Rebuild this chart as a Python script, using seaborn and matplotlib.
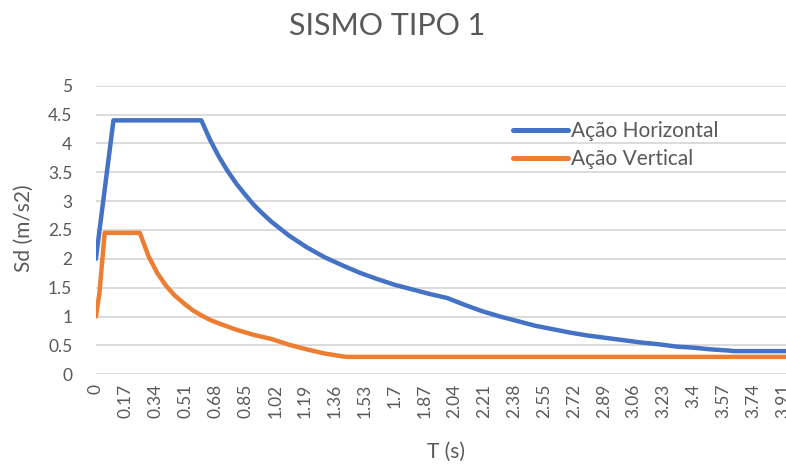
import matplotlib
matplotlib.use("Agg")
import matplotlib.pyplot as plt
import seaborn as sns
import pandas as pd

# Design spectra, EC8 seismic action type 1
t_horizontal = [0.0, 0.1, 0.6, 0.65, 0.7, 0.75, 0.8, 0.85, 0.9, 0.95, 1.0,
                1.1, 1.2, 1.3, 1.4, 1.5, 1.6, 1.7, 1.8, 1.9, 2.0,
                2.1, 2.2, 2.3, 2.4, 2.5, 2.6, 2.7, 2.8, 2.9, 3.0,
                3.1, 3.2, 3.3, 3.4, 3.5, 3.6, 3.63, 3.93]
sd_horizontal = [2.0, 4.4, 4.4, 4.06, 3.77, 3.52, 3.30, 3.11, 2.93, 2.78, 2.64,
                 2.40, 2.20, 2.03, 1.89, 1.76, 1.65, 1.55, 1.47, 1.39, 1.32,
                 1.20, 1.09, 1.00, 0.92, 0.84, 0.78, 0.72, 0.67, 0.63, 0.59,
                 0.55, 0.52, 0.48, 0.46, 0.43, 0.41, 0.40, 0.40]

t_vertical = [0.0, 0.02, 0.05, 0.25, 0.3, 0.35, 0.4, 0.45, 0.5, 0.55, 0.6, 0.65,
              0.7, 0.8, 0.9, 1.0, 1.1, 1.2, 1.3, 1.4, 1.43, 3.93]
sd_vertical = [1.0, 1.4, 2.45, 2.45, 2.04, 1.75, 1.53, 1.36, 1.23, 1.11, 1.02, 0.94,
               0.88, 0.77, 0.68, 0.61, 0.51, 0.43, 0.36, 0.31, 0.30, 0.30]

series_names = ["Ação Horizontal", "Ação Vertical"]
series_colors = ["#4472C4", "#ED7D31"]

x_tick_values = [0, 0.17, 0.34, 0.51, 0.68, 0.85, 1.02, 1.19, 1.36, 1.53, 1.7, 1.87,
                 2.04, 2.21, 2.38, 2.55, 2.72, 2.89, 3.06, 3.23, 3.4, 3.57, 3.74, 3.91]
x_tick_labels = ["0", "0.17", "0.34", "0.51", "0.68", "0.85", "1.02", "1.19", "1.36",
                 "1.53", "1.7", "1.87", "2.04", "2.21", "2.38", "2.55", "2.72", "2.89",
                 "3.06", "3.23", "3.4", "3.57", "3.74", "3.91"]
y_ticks = [0, 0.5, 1, 1.5, 2, 2.5, 3, 3.5, 4, 4.5, 5]
y_tick_labels = ["0", "0.5", "1", "1.5", "2", "2.5", "3", "3.5", "4", "4.5", "5"]

df = pd.concat([
    pd.DataFrame({"T": t_horizontal, "Sd": sd_horizontal, "serie": series_names[0]}),
    pd.DataFrame({"T": t_vertical, "Sd": sd_vertical, "serie": series_names[1]}),
], ignore_index=True)

sns.set_theme(style="white")
plt.rcParams["font.family"] = ["Lato", "DejaVu Sans"]
text_color = "#595959"

fig = plt.figure(figsize=(7.86, 4.66), dpi=100)
ax = fig.add_axes([0.122, 0.197, 0.878, 0.619])

for yv in y_ticks:
    ax.axhline(yv, color="#d9d9d9", lw=1.3, zorder=0)

sns.lineplot(data=df, x="T", y="Sd", hue="serie", hue_order=series_names,
             palette=series_colors, estimator=None, sort=False, lw=3.2,
             ax=ax, legend=True, zorder=3)

ax.set_xlim(0, 3.927)
ax.set_ylim(0, 5)
ax.set_xticks(x_tick_values)
ax.set_xticklabels(x_tick_labels, rotation=90, fontsize=12.5, color=text_color)
ax.set_yticks(y_ticks)
ax.set_yticklabels(y_tick_labels, fontsize=12.5, color=text_color)
ax.tick_params(axis="x", length=0, pad=7)
ax.tick_params(axis="y", length=0, pad=17)
for s in ax.spines.values():
    s.set_visible(False)

ax.set_xlabel("T (s)", fontsize=15, color=text_color)
ax.set_ylabel("Sd (m/s2)", fontsize=15, color=text_color)
ax.xaxis.set_label_coords(0.507, -0.269)
ax.yaxis.set_label_coords(-0.104, 0.507)
ax.xaxis.label.set_va("center")
ax.yaxis.label.set_va("center")
fig.text(0.493, 0.945, "SISMO TIPO 1", ha="center", va="center", fontsize=22, color=text_color)

leg = ax.legend(loc="upper left", bbox_to_anchor=(0.604, 0.878), frameon=False,
                fontsize=15, handlelength=2.64, handletextpad=0.15, labelspacing=0.4,
                borderpad=0, borderaxespad=0)
for txt in leg.get_texts():
    txt.set_color(text_color)
for line in leg.get_lines():
    line.set_linewidth(3.6)

fig.savefig("out.png", dpi=100)
